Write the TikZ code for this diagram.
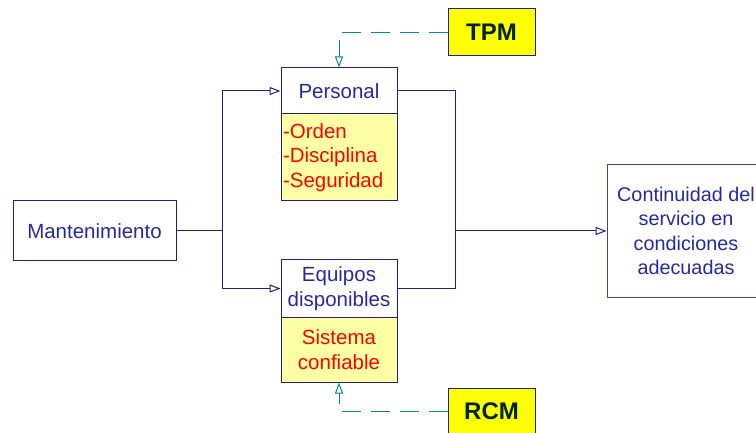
\documentclass[tikz,border=0pt]{standalone}
\usepackage{fontspec}
\setmainfont{Liberation Sans}
\usetikzlibrary{arrows.meta, positioning}

\definecolor{azul}{RGB}{30,30,140}
\definecolor{azulclaro}{RGB}{60,60,225}
\definecolor{texto}{RGB}{40,40,160}
\definecolor{amarillo}{RGB}{255,255,165}
\definecolor{amarillofuerte}{RGB}{255,255,0}
\definecolor{turquesa}{RGB}{0,140,140}
\definecolor{oscuro}{RGB}{0,35,0}

\begin{document}
\begin{tikzpicture}[x=1pt, y=-1pt, >={Triangle[open, length=11pt, width=8pt]},
	font=\fontsize{20.5}{24.5}\selectfont,
	caja/.style={draw=azul, line width=1pt, text=texto, inner sep=0pt, align=center},
	nota/.style={caja, fill=amarillo, text=red},
	metodo/.style={caja, fill=amarillofuerte, text=oscuro, font=\fontsize{24}{28}\selectfont\bfseries,
		minimum width=87pt, minimum height=47pt},
	linea/.style={draw=azul, line width=1pt},
	guion/.style={draw=turquesa, line width=1pt, dash pattern=on 19pt off 10pt}]

		\useasboundingbox (0,0) rectangle (756,433);

		% Cajas
		\node[caja, minimum width=163pt, minimum height=60pt] (mant) at (94.5,231) {Mantenimiento};

		\node[caja, minimum width=116pt, minimum height=46pt] (personal) at (339,91) {Personal};
		\node[nota, text width=112pt, inner sep=2pt, minimum height=87pt, align=left,
			below=-1pt of personal] (valores) {-Orden\\-Disciplina\\-Seguridad};

		\node[caja, minimum width=116pt, minimum height=57pt] (equipos) at (339,288.5) {Equipos\\disponibles};
		\node[nota, minimum width=116pt, minimum height=65pt, below=-1pt of equipos] (sistema) {Sistema\\confiable};

		\node[caja, draw=azulclaro, minimum width=158pt, minimum height=132pt,
			font=\fontsize{19.8}{24.5}\selectfont] (continuidad) at (686,231)
			{Continuidad del\\servicio en\\condiciones\\adecuadas};

		\node[metodo] (tpm) at (491.5,32.5) {TPM};
		\node[metodo] (rcm) at (491.5,411.5) {RCM};

		% Uniones
		\coordinate (rama) at (222,231);
		\coordinate (union) at (455,231);

		% Flechas
		\draw[linea] (mant) -- (rama);
		\draw[linea, ->] (rama) |- (personal);
		\draw[linea, ->] (rama) |- (equipos);
		\draw[linea] (personal) -| (union);
		\draw[linea] (equipos) -| (union);
		\draw[linea, ->] (union) -- (continuidad);

		\draw[guion, ->] (tpm) -| (personal);
		\draw[guion, ->] (rcm) -| (sistema);
	\end{tikzpicture}
\end{document}
